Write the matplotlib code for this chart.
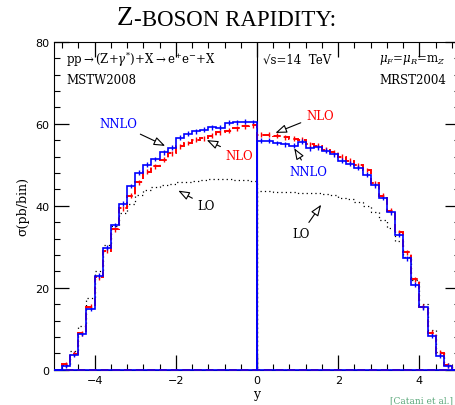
import numpy as np
import matplotlib
matplotlib.use('Agg')
import matplotlib.pyplot as plt
from matplotlib.ticker import MultipleLocator

plt.rcParams['mathtext.fontset'] = 'dejavuserif'

# bin edges: 0.2 wide, -5 .. 5
edges = np.linspace(-5, 5, 51)

# MSTW2008 (y < 0)
nnlo_mstw = [0.0, 1.0, 3.7, 8.7, 14.8, 22.9, 29.7, 35.3, 40.5, 44.8, 48.0, 50.0, 51.4,
             53.0, 54.1, 56.6, 57.5, 58.1, 58.5, 59.1, 59.0, 60.2, 60.3, 60.5, 60.3]
nlo_mstw = [0.0, 1.3, 3.9, 8.9, 15.4, 22.5, 29.0, 34.3, 39.4, 42.4, 45.7, 48.3, 49.6,
            51.2, 52.8, 54.5, 55.3, 56.1, 56.5, 57.1, 57.9, 58.3, 58.9, 59.4, 59.6]
lo_mstw = [0.0, 1.2, 4.5, 10.6, 17.5, 24.0, 30.5, 35.0, 38.3, 40.4, 42.5, 43.8, 44.5,
           45.0, 45.4, 45.7, 45.8, 46.0, 46.3, 46.5, 46.6, 46.5, 46.3, 46.2, 46.0]

# MRST2004 (y > 0)
nnlo_mrst = [55.9, 55.8, 55.3, 55.0, 54.6, 55.6, 54.0, 54.2, 53.4, 52.6, 51.0, 50.2, 49.3,
             47.6, 45.0, 41.9, 38.4, 32.9, 27.2, 20.7, 15.2, 8.3, 3.4, 1.0, 0.0]
nlo_mrst = [57.3, 57.3, 57.1, 56.7, 56.3, 56.1, 55.0, 54.6, 53.7, 53.0, 52.0, 51.0, 49.9,
            48.7, 45.5, 42.4, 38.8, 33.5, 28.6, 22.1, 15.4, 9.0, 4.1, 1.1, 0.0]
lo_mrst = [43.6, 43.5, 43.4, 43.3, 43.3, 43.2, 43.1, 43.0, 42.8, 42.5, 42.0, 41.6, 41.0,
           40.0, 38.5, 36.5, 34.5, 31.5, 27.5, 21.8, 16.0, 9.6, 4.2, 1.2, 0.0]

zeros = [0.0] * 25
centers = 0.5 * (edges[:-1] + edges[1:])

fig = plt.figure(figsize=(4.56, 4.06), dpi=100)
ax = fig.add_axes([54/456, 35.3/406, 406/456, 328/406])

blue = '#0000ff'
red = '#ff0000'

for vals in (lo_mstw + zeros, zeros + lo_mrst):
    ax.stairs(vals, edges, baseline=None, color='k', lw=0.9, ls=(0, (1, 2.5)))
for vals in (nlo_mstw + zeros, zeros + nlo_mrst):
    v = np.array(vals)
    ax.stairs(v, edges, baseline=None, color=red, lw=1.4, ls=(0, (4, 2)),
              zorder=3, clip_on=False)
    m = v > 0.5
    ax.errorbar(centers[m], v[m], yerr=0.6, fmt='none', ecolor=red, elinewidth=1.0)
for vals in (nnlo_mstw + zeros, zeros + nnlo_mrst):
    v = np.array(vals)
    ax.stairs(v, edges, baseline=None, color=blue, lw=1.2, zorder=3, clip_on=False)
    m = v > 0.5
    ax.errorbar(centers[m], v[m], yerr=0.6, fmt='none', ecolor=blue, elinewidth=1.0)

ax.axvline(0, color='k', lw=0.8)

ax.set_xlim(-5, 5)
ax.set_ylim(0, 80)
ax.set_xticks([-4, -2, 0, 2, 4])
ax.set_yticks([0, 20, 40, 60, 80])
ax.xaxis.set_minor_locator(MultipleLocator(0.4))
ax.yaxis.set_minor_locator(MultipleLocator(4))
ax.tick_params(which='both', direction='in', top=True, right=True, labelsize=8)
ax.tick_params(which='major', length=10.5, width=0.9)
ax.tick_params(which='minor', length=4, width=0.8)
ax.set_xticklabels(['\u22124', '\u22122', '0', '2', '4'])
ax.set_xlabel('y', family='DejaVu Serif', fontsize=9, labelpad=2)
ax.set_ylabel('\u03c3(pb/bin)', family='DejaVu Serif', fontsize=9, labelpad=4)

tf = dict(family='DejaVu Serif', fontsize=8.5)
ax.text(-4.7, 75.8, r'pp$\rightarrow$(Z+$\gamma^{*}$)+X$\rightarrow$e$^{+}$e$^{-}$+X',
        va='center', ha='left', **tf)
ax.text(-4.7, 70.9, 'MSTW2008', va='center', ha='left', **tf)
ax.text(0.15, 75.8, '\u221as=14  TeV', va='center', ha='left', **tf)
ax.text(4.65, 75.8, r'$\mu_F$=$\mu_R$=m$_Z$', va='center', ha='right', **tf)
ax.text(4.65, 70.9, 'MRST2004', va='center', ha='right', **tf)

ap = dict(arrowstyle='-|>,head_length=0.8,head_width=0.3', fc='white', ec='black', lw=0.8)
ax.annotate('NNLO', xy=(-2.2, 54.3), xytext=(-3.42, 60.0), color=blue,
            ha='center', va='center', arrowprops=ap, **tf)
ax.annotate('NLO', xy=(-1.3, 56.3), xytext=(-0.43, 52.2), color=red,
            ha='center', va='center', arrowprops=ap, **tf)
ax.annotate('LO', xy=(-2.0, 44.0), xytext=(-1.25, 40.0), color='k',
            ha='center', va='center', arrowprops=ap, **tf)
ax.annotate('NLO', xy=(0.39, 57.5), xytext=(1.55, 62.1), color=red,
            ha='center', va='center', arrowprops=ap, **tf)
ax.annotate('NNLO', xy=(0.88, 54.6), xytext=(1.27, 48.3), color=blue,
            ha='center', va='center', arrowprops=ap, **tf)
ax.annotate('LO', xy=(1.62, 40.8), xytext=(1.08, 33.1), color='k',
            ha='center', va='center', arrowprops=ap, **tf)

# title in small caps
z = fig.text(117/456, 1 - 25/406, 'Z', family='Liberation Serif', fontsize=19.5,
             ha='left', va='baseline')
ax.annotate('-BOSON RAPIDITY:', xy=(1, 0), xycoords=z, family='Liberation Serif',
            fontsize=16.5, ha='left', va='bottom', annotation_clip=False)

fig.text(453/456, 3/406, '[Catani et al.]', family='DejaVu Serif', fontsize=6.5,
         color='#5aa87a', ha='right', va='baseline')

fig.savefig('out.png', dpi=100)
